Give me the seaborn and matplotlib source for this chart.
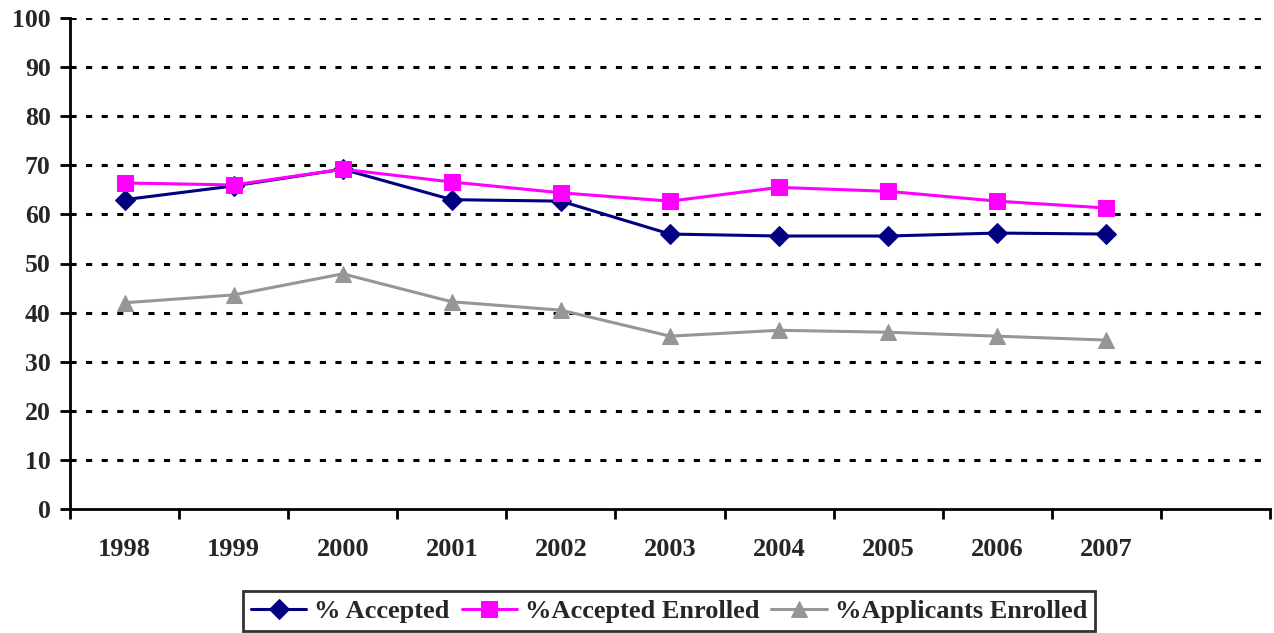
import pandas as pd
import matplotlib.pyplot as plt
import seaborn as sns
from matplotlib.ticker import FixedLocator

years = ["1998", "1999", "2000", "2001", "2002", "2003", "2004", "2005", "2006", "2007"]
pct_accepted = [63.0, 65.8, 69.2, 63.0, 62.7, 56.0, 55.6, 55.6, 56.2, 56.0]
pct_accepted_enrolled = [66.4, 66.0, 69.2, 66.6, 64.4, 62.7, 65.5, 64.7, 62.7, 61.3]
pct_applicants_enrolled = [42.0, 43.6, 47.9, 42.2, 40.5, 35.2, 36.4, 36.0, 35.2, 34.4]

series_names = ["% Accepted", "%Accepted Enrolled", "%Applicants Enrolled"]
series_values = [pct_accepted, pct_accepted_enrolled, pct_applicants_enrolled]
colors = ["#000080", "#FF00FF", "#969696"]
markers = ["D", "s", "^"]
marker_sizes = [10, 11.5, 11.5]

sns.set_style("white")
plt.rcParams["font.family"] = ["Liberation Serif", "DejaVu Serif"]
plt.rcParams["font.weight"] = "bold"

rows = []
for name, vals in zip(series_names, series_values):
    for i, v in enumerate(vals):
        rows.append({"idx": i, "value": v, "series": name})
df = pd.DataFrame(rows)

fig = plt.figure(figsize=(12.74, 6.33), dpi=100)
ax = fig.add_axes([70 / 1274, 124 / 633, 1200 / 1274, 491 / 633])

# dotted gridlines first so the lines sit on top
for y in range(10, 101, 10):
    ax.axhline(y, color="black", lw=2.2, dashes=(2, 3.1), zorder=1)

for name, color, marker, ms in zip(series_names, colors, markers, marker_sizes):
    sub = df[df["series"] == name]
    sns.lineplot(data=sub, x="idx", y="value", ax=ax, color=color, lw=2.2,
                 marker=marker, markersize=ms, markeredgecolor=color,
                 label=name, zorder=3)

ax.set_xlim(-0.5, 10.5)
ax.set_ylim(0, 100)
ax.set_yticks(range(0, 101, 10))
ax.set_yticklabels([str(v) for v in range(0, 101, 10)], fontsize=18.5, fontweight="bold")

ax.set_xticks(range(len(years)))
ax.set_xticklabels(years, fontsize=19, fontweight="bold")
ax.xaxis.set_minor_locator(FixedLocator([i - 0.5 for i in range(12)]))
ax.tick_params(axis="x", which="major", bottom=True, length=0, pad=21)
ax.tick_params(axis="x", which="minor", bottom=True, length=7, width=2,
               direction="out", color="black")
ax.tick_params(axis="y", left=True, length=7, width=2, direction="out",
               color="black", pad=7)
ax.set_xlabel("")
ax.set_ylabel("")

for side in ["top", "right"]:
    ax.spines[side].set_visible(False)
for side in ["left", "bottom"]:
    ax.spines[side].set_color("black")
    ax.spines[side].set_linewidth(2)

handles, labels = ax.get_legend_handles_labels()
ax.legend_.remove()
leg = fig.legend(handles, labels, loc="center", bbox_to_anchor=(669 / 1274, 1 - 611 / 633),
                 ncol=3, frameon=True, fancybox=False, edgecolor="black",
                 prop={"size": 19, "weight": "bold"}, handlelength=2.1,
                 handletextpad=0.3, columnspacing=0.45, borderpad=0.3,
                 borderaxespad=0)
leg.get_frame().set_linewidth(2)

fig.savefig("out.png", dpi=100)
